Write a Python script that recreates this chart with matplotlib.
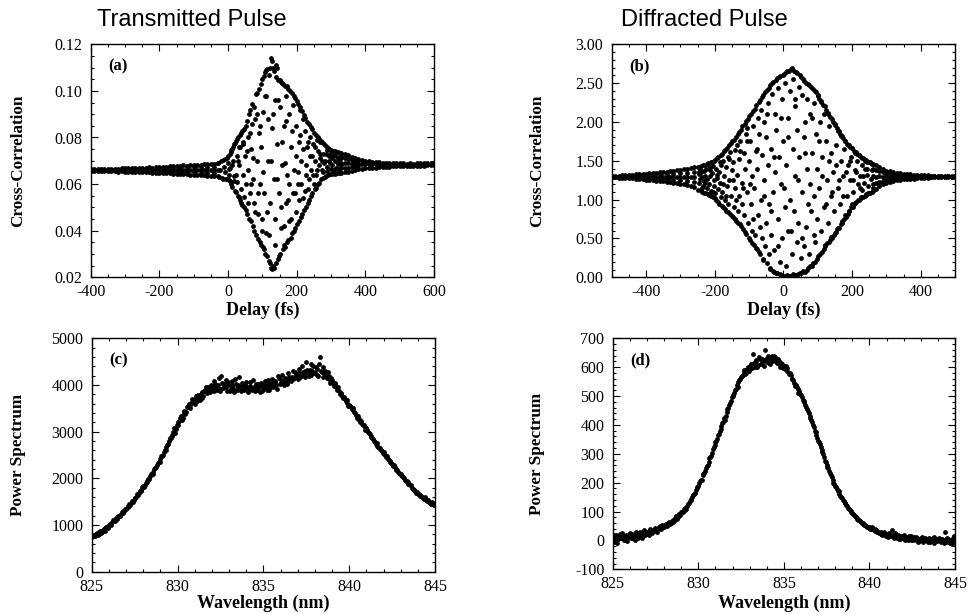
import matplotlib
matplotlib.use("Agg")
import matplotlib.pyplot as plt
from matplotlib.ticker import MultipleLocator, FormatStrFormatter

# ---------------- Panel (a): transmitted pulse cross-correlation ----------------
a_left_delay = [-400, -390, -380, -370, -360, -350, -340, -330, -320, -310,
                -300, -290, -280, -270, -260, -250, -240, -230, -220, -210,
                -200, -190, -180, -170, -160, -150, -140, -130, -120, -110,
                -100, -90, -80, -70, -60, -50, -40, -30]
a_left_hi = [.0663, .0664, .0663, .0664, .0665, .0664, .0665, .0666, .0665, .0667,
             .0667, .0668, .0667, .0669, .0670, .0669, .0671, .0672, .0671, .0673,
             .0674, .0673, .0675, .0676, .0677, .0676, .0678, .0680, .0679, .0681,
             .0682, .0683, .0684, .0685, .0686, .0687, .0688, .0689]
a_left_mid = [.0659, .0660, .0659, .0660, .0660, .0659, .0660, .0660, .0660, .0661,
              .0660, .0661, .0660, .0661, .0661, .0660, .0661, .0661, .0660, .0661,
              .0661, .0660, .0661, .0662, .0661, .0660, .0661, .0662, .0661, .0662,
              .0661, .0662, .0661, .0662, .0660, .0661, .0660, .0662]
a_left_lo = [.0655, .0656, .0655, .0655, .0656, .0655, .0655, .0655, .0654, .0655,
             .0654, .0653, .0653, .0652, .0652, .0651, .0651, .0650, .0649, .0649,
             .0648, .0647, .0647, .0646, .0645, .0645, .0644, .0643, .0642, .0641,
             .0640, .0640, .0638, .0637, .0636, .0635, .0634, .0633]
a_left2_delay = [-180, -160, -140, -120, -100, -80, -60, -40]
a_left2_hi = [.0669, .0670, .0671, .0672, .0672, .0673, .0674, .0675]
a_left2_lo = [.0653, .0652, .0651, .0651, .0650, .0649, .0648, .0647]

a_right_delay = [330, 340, 350, 360, 370, 380, 390, 400, 410, 420,
                 430, 440, 450, 460, 470, 480, 490, 500, 510, 520,
                 530, 540, 550, 560, 570, 580, 590, 600]
a_right_hi = [.0735, .0730, .0725, .0718, .0712, .0706, .0702, .0699, .0697, .0695,
              .0694, .0693, .0692, .0691, .0690, .0690, .0689, .0690, .0689, .0688,
              .0689, .0688, .0689, .0690, .0689, .0690, .0690, .0691]
a_right_mid = [.0690, .0690, .0689, .0688, .0688, .0687, .0687, .0686, .0686, .0685,
               .0685, .0684, .0684, .0684, .0683, .0683, .0683, .0684, .0683, .0682,
               .0683, .0683, .0684, .0684, .0684, .0685, .0685, .0686]
a_right_lo = [.0648, .0651, .0654, .0657, .0660, .0663, .0665, .0667, .0669, .0670,
              .0671, .0672, .0673, .0674, .0675, .0676, .0676, .0677, .0677, .0676,
              .0677, .0678, .0678, .0679, .0679, .0680, .0680, .0680]
a_right2_delay = [330, 340, 350, 360, 370, 380]
a_right2_hi = [.0712, .0710, .0707, .0703, .0700, .0697]
a_right2_lo = [.0668, .0670, .0671, .0673, .0674, .0676]

a_fringe = [
    (-28, .0692), (-25, .0631), (-22, .0660), (-20, .0697), (-18, .0628),
    (-16, .0702), (-14, .0624), (-12, .0672), (-10, .0708), (-8, .0650), (-6, .0622),
    (-4, .0712), (-2, .0620), (0, .0690), (1, .0722), (3, .0640), (4, .0618),
    (5, .0730), (6, .0612), (7, .0668), (8, .0738), (9, .0600), (10, .0745),
    (12, .0752), (13, .0588), (14, .0700), (15, .0760), (16, .0635), (18, .0770), (19, .0572),
    (21, .0778), (22, .0565), (24, .0785), (25, .0610), (26, .0720), (27, .0792), (28, .0550),
    (30, .0800), (31, .0545), (33, .0680), (34, .0810), (35, .0530), (36, .0760), (38, .0820), (39, .0520),
    (41, .0826), (42, .0512), (44, .0640), (45, .0780), (46, .0835), (47, .0500), (49, .0720),
    (51, .0850), (52, .0490), (53, .0600), (55, .0870), (56, .0470), (57, .0800), (59, .0660),
    (61, .0900), (62, .0450), (64, .0560), (65, .0920), (66, .0440), (67, .0750), (69, .0860),
    (71, .0945), (72, .0420), (73, .0620), (75, .0930), (76, .0400), (77, .0520), (79, .0880),
    (81, .0985), (82, .0380), (83, .0700), (85, .0990), (86, .0365), (87, .0470), (89, .0820),
    (91, .1010), (92, .0350), (93, .0600), (95, .1030), (96, .0340), (97, .0760), (99, .0450),
    (100, .1050), (101, .0330), (103, .0910), (104, .1065), (105, .0320), (106, .0560), (108, .1080), (109, .0300),
    (110, .1090), (111, .0390), (112, .0980), (114, .1095), (115, .0290), (116, .0700), (118, .1070), (119, .0270),
    (121, .1100), (122, .0260), (123, .0520), (125, .1140), (126, .0240), (127, .1130), (128, .0840), (129, .0235),
    (130, .1100), (131, .0250), (133, .0620), (134, .1085), (135, .0240), (136, .0960), (138, .0450), (139, .1110),
    (140, .1060), (141, .0260), (143, .0770), (144, .1100), (145, .0280), (147, .1045), (148, .0560), (149, .0290),
    (150, .1045), (151, .0300), (152, .0930), (154, .1040), (155, .0410), (156, .0680), (158, .1035), (159, .0320),
    (161, .1030), (162, .0340), (164, .0850), (165, .1020), (166, .0330), (168, .0520), (169, .0980),
    (171, .1020), (172, .0350), (173, .0640), (175, .1010), (176, .0360), (177, .0900), (179, .0440),
    (181, .1000), (182, .0370), (183, .0760), (185, .0990), (186, .0390), (188, .0560), (189, .0940),
    (191, .0980), (192, .0400), (193, .0660), (195, .0970), (196, .0410), (198, .0850), (199, .0480),
    (201, .0955), (202, .0430), (204, .0600), (205, .0945), (206, .0440), (208, .0780), (209, .0920),
    (211, .0930), (212, .0460), (213, .0700), (215, .0915), (216, .0470), (218, .0540), (219, .0880),
    (221, .0895), (222, .0490), (223, .0830), (225, .0885), (226, .0500), (227, .0640), (229, .0760),
    (231, .0865), (232, .0520), (233, .0580), (235, .0860), (236, .0530), (238, .0720), (239, .0800),
    (241, .0845), (242, .0550), (243, .0660), (245, .0835), (246, .0560), (248, .0770), (249, .0600),
    (251, .0820), (252, .0580), (253, .0700), (255, .0810), (256, .0585), (257, .0640), (259, .0790),
    (261, .0800), (262, .0600), (263, .0740), (264, .0680), (265, .0795), (266, .0605), (268, .0710), (269, .0780),
    (271, .0785), (272, .0620), (273, .0660), (275, .0780), (276, .0625), (277, .0730), (279, .0690),
    (281, .0770), (282, .0632), (283, .0700), (285, .0765), (286, .0636), (287, .0675), (289, .0745),
    (291, .0755), (292, .0638), (293, .0720), (295, .0750), (296, .0642), (297, .0690), (299, .0665),
    (301, .0745), (302, .0644), (303, .0710), (304, .0680), (305, .0742), (306, .0646), (308, .0725), (309, .0660),
    (311, .0740), (312, .0645), (313, .0700), (314, .0670), (315, .0738), (316, .0648), (318, .0715), (319, .0685),
    (321, .0737), (322, .0647), (323, .0705), (324, .0665), (325, .0735), (326, .0650), (328, .0720), (329, .0680),
]
a_fringe_inner = [
    (2, .0665), (11, .0680), (17, .0612), (23, .0640), (29, .0700), (32, .0760),
    (37, .0580), (43, .0770), (48, .0545), (54, .0740), (58, .0520), (63, .0820),
    (68, .0600), (74, .0710), (78, .0480), (84, .0900), (88, .0560), (94, .0850),
    (98, .0400), (102, .0650), (107, .0980), (113, .0480), (117, .0880), (120, .0380),
    (124, .0700), (132, .0900), (137, .0340), (142, .0620), (146, .0960), (153, .0500),
    (157, .0780), (163, .0420), (167, .0690), (170, .0870), (174, .0530), (178, .0600),
    (184, .0450), (187, .0830), (194, .0560), (197, .0720), (203, .0650), (207, .0530),
    (210, .0810), (214, .0600), (217, .0750), (224, .0570), (228, .0680), (234, .0780),
    (237, .0620), (244, .0720), (247, .0640), (254, .0760), (258, .0660), (267, .0730),
    (274, .0700), (278, .0650), (284, .0730), (288, .0655), (294, .0700), (298, .0730),
]

# ---------------- Panel (b): diffracted pulse cross-correlation ----------------
b_left_delay = [-500, -490, -480, -470, -460, -450, -440, -430, -420, -410,
                -400, -390, -380, -370, -360, -350, -340, -330, -320, -310,
                -300, -290, -280, -270, -260]
b_left_hi = [1.305, 1.307, 1.309, 1.311, 1.314, 1.317, 1.320, 1.324, 1.328, 1.331,
             1.335, 1.339, 1.343, 1.347, 1.352, 1.356, 1.360, 1.365, 1.370, 1.376,
             1.382, 1.390, 1.400, 1.412, 1.425]
b_left_mid = [1.296, 1.296, 1.297, 1.296, 1.297, 1.296, 1.297, 1.296, 1.297, 1.296,
              1.296, 1.297, 1.296, 1.297, 1.296, 1.297, 1.296, 1.297, 1.296, 1.297,
              1.296, 1.297, 1.296, 1.297, 1.296]
b_left_lo = [1.287, 1.285, 1.284, 1.282, 1.280, 1.277, 1.274, 1.270, 1.266, 1.262,
             1.257, 1.253, 1.248, 1.244, 1.239, 1.234, 1.229, 1.224, 1.218, 1.212,
             1.205, 1.196, 1.186, 1.173, 1.158]
b_left2_delay = [-420, -400, -380, -360, -340, -320, -300, -280, -260]
b_left2_hi = [1.313, 1.316, 1.321, 1.325, 1.331, 1.334, 1.341, 1.349, 1.362]
b_left2_lo = [1.280, 1.276, 1.273, 1.268, 1.263, 1.257, 1.251, 1.243, 1.231]

b_right_delay = [260, 270, 280, 290, 300, 310, 320, 330, 340, 350,
                 360, 370, 380, 390, 400, 410, 420, 430, 440, 450,
                 460, 470, 480, 490, 500]
b_right_hi = [1.460, 1.440, 1.420, 1.395, 1.375, 1.365, 1.355, 1.348, 1.342, 1.336,
              1.330, 1.326, 1.322, 1.318, 1.315, 1.313, 1.311, 1.310, 1.309, 1.308,
              1.308, 1.307, 1.307, 1.306, 1.306]
b_right_mid = [1.298, 1.297, 1.298, 1.297, 1.298, 1.297, 1.298, 1.297, 1.298, 1.297,
               1.298, 1.297, 1.298, 1.297, 1.298, 1.297, 1.298, 1.297, 1.298, 1.297,
               1.298, 1.297, 1.298, 1.297, 1.298]
b_right_lo = [1.110, 1.140, 1.170, 1.195, 1.215, 1.230, 1.240, 1.250, 1.255, 1.260,
              1.264, 1.268, 1.271, 1.274, 1.277, 1.280, 1.283, 1.286, 1.288, 1.290,
              1.292, 1.293, 1.294, 1.295, 1.295]
b_right2_delay = [260, 270, 280, 290, 300, 310, 320, 330, 340, 350]
b_right2_hi = [1.400, 1.385, 1.370, 1.355, 1.342, 1.335, 1.328, 1.322, 1.318, 1.315]
b_right2_lo = [1.200, 1.215, 1.230, 1.245, 1.255, 1.262, 1.268, 1.272, 1.276, 1.279]

b_fringe = [
    (-250, 1.42), (-249, 1.13), (-247, 1.33), (-246, 1.22), (-244, 1.40), (-243, 1.27), (-241, 1.12), (-240, 1.36),
    (-239, 1.43), (-238, 1.10), (-236, 1.29), (-235, 1.18), (-233, 1.44), (-232, 1.37), (-231, 1.24), (-230, 1.09),
    (-229, 1.45), (-228, 1.31), (-226, 1.08), (-225, 1.40), (-223, 1.15), (-222, 1.46), (-221, 1.26), (-220, 1.07),
    (-219, 1.47), (-218, 1.20), (-216, 1.06), (-215, 1.38), (-213, 1.30), (-212, 1.48), (-211, 1.11), (-210, 1.05),
    (-209, 1.49), (-208, 1.34), (-206, 1.04), (-205, 1.43), (-203, 1.17), (-202, 1.50), (-201, 1.25), (-200, 1.02),
    (-199, 1.51), (-198, 1.08), (-196, 1.40), (-195, 0.99), (-193, 1.28), (-192, 1.54), (-191, 1.14), (-190, 0.97),
    (-189, 1.55), (-188, 1.36), (-186, 0.95), (-185, 1.21), (-183, 1.57), (-182, 1.03), (-181, 1.45), (-180, 0.92),
    (-179, 1.59), (-178, 1.10), (-176, 0.90), (-175, 1.50), (-173, 1.30), (-172, 1.62), (-171, 0.88), (-170, 1.00),
    (-169, 1.64), (-168, 1.42), (-166, 0.86), (-165, 1.18), (-163, 1.67), (-162, 0.84), (-161, 1.55), (-160, 0.95),
    (-159, 1.70), (-158, 1.25), (-156, 0.82), (-155, 1.61), (-153, 1.05), (-152, 1.73), (-151, 0.79), (-150, 1.38),
    (-149, 1.75), (-148, 0.78), (-146, 1.48), (-145, 0.90), (-143, 1.77), (-142, 1.15), (-141, 0.75), (-140, 1.64),
    (-139, 1.80), (-138, 0.72), (-136, 1.32), (-135, 1.70), (-133, 0.85), (-132, 1.84), (-131, 0.70), (-130, 1.52),
    (-129, 1.87), (-128, 1.05), (-126, 0.68), (-125, 1.76), (-123, 1.90), (-122, 0.66), (-121, 1.22), (-120, 0.95),
    (-119, 1.95), (-118, 0.62), (-116, 1.60), (-115, 0.80), (-113, 1.98), (-112, 1.40), (-111, 0.58), (-110, 1.85),
    (-109, 2.01), (-108, 0.56), (-106, 1.10), (-105, 1.92), (-103, 0.70), (-102, 2.04), (-101, 1.50), (-100, 0.50),
    (-99, 2.08), (-98, 0.48), (-96, 1.75), (-95, 0.95), (-93, 2.10), (-92, 0.60), (-91, 1.30), (-90, 0.44),
    (-89, 2.14), (-88, 1.95), (-86, 0.42), (-85, 1.15), (-83, 2.17), (-82, 0.55), (-81, 1.62), (-80, 0.38),
    (-79, 2.22), (-78, 0.36), (-76, 1.40), (-75, 2.05), (-73, 0.80), (-72, 2.26), (-71, 0.33), (-70, 1.85),
    (-69, 2.28), (-68, 0.30), (-66, 1.00), (-65, 2.15), (-63, 0.50), (-62, 2.32), (-61, 1.58), (-60, 0.24),
    (-59, 2.35), (-58, 0.22), (-56, 1.25), (-55, 2.00), (-53, 0.40), (-52, 2.38), (-51, 0.70), (-50, 1.80),
    (-49, 2.41), (-48, 0.18), (-46, 1.45), (-45, 2.25), (-43, 0.30), (-42, 2.44), (-41, 0.95), (-40, 0.12),
    (-39, 2.47), (-38, 0.11), (-36, 1.65), (-35, 0.55), (-33, 2.36), (-32, 2.50), (-31, 1.10), (-30, 0.08),
    (-29, 2.52), (-28, 0.07), (-26, 0.35), (-25, 2.10), (-23, 1.35), (-22, 2.54), (-21, 0.06), (-20, 1.90),
    (-19, 2.56), (-18, 0.05), (-16, 0.75), (-15, 2.44), (-13, 1.55), (-12, 2.58), (-11, 0.04), (-10, 0.20),
    (-9, 2.59), (-8, 0.03), (-6, 1.20), (-5, 2.30), (-3, 0.50), (-2, 2.61), (-1, 0.02), (0, 1.75),
    (1, 2.62), (2, 0.02), (4, 0.90), (5, 2.50), (7, 0.15), (8, 2.64), (9, 1.45), (10, 0.01),
    (11, 2.65), (12, 0.03), (14, 2.05), (15, 0.60), (17, 2.66), (18, 0.02), (19, 1.00), (20, 2.40),
    (21, 2.68), (22, 0.02), (24, 0.30), (25, 2.69), (27, 1.65), (28, 0.04), (29, 2.55), (30, 0.85),
    (31, 2.66), (32, 0.03), (34, 1.30), (35, 2.20), (37, 0.03), (38, 2.64), (39, 0.45), (40, 1.90),
    (41, 2.63), (42, 0.04), (44, 0.70), (45, 2.45), (47, 1.55), (48, 2.60), (49, 0.05), (50, 0.25),
    (51, 2.58), (52, 0.06), (54, 1.10), (55, 2.35), (57, 0.08), (58, 2.55), (59, 1.80), (60, 0.40),
    (61, 2.53), (62, 0.07), (64, 2.00), (65, 0.65), (67, 2.50), (68, 0.10), (69, 1.40), (70, 2.30),
    (71, 2.49), (72, 0.12), (74, 0.30), (75, 2.47), (77, 1.20), (78, 0.14), (79, 2.10), (80, 0.85),
    (81, 2.45), (82, 0.15), (84, 1.60), (85, 2.42), (87, 0.18), (88, 0.55), (89, 2.25), (90, 1.05),
    (91, 2.40), (92, 0.20), (94, 1.85), (95, 2.38), (97, 0.23), (98, 0.75), (99, 1.40), (100, 2.35),
    (101, 2.34), (102, 0.27), (104, 1.15), (105, 2.30), (107, 0.30), (108, 2.00), (109, 0.60), (110, 2.27),
    (111, 2.26), (112, 0.33), (114, 1.55), (115, 2.22), (117, 0.37), (118, 0.90), (119, 2.10), (120, 0.40),
    (121, 2.20), (122, 0.42), (124, 1.75), (125, 2.15), (127, 0.44), (128, 1.25), (129, 2.12), (130, 0.70),
    (131, 2.10), (132, 0.46), (134, 1.95), (135, 0.48), (137, 2.06), (138, 1.05), (139, 0.52), (140, 1.60),
    (141, 2.04), (142, 0.51), (144, 1.35), (145, 2.00), (147, 0.55), (148, 0.85), (149, 1.97), (150, 0.57),
    (151, 1.96), (152, 0.58), (154, 1.70), (155, 0.62), (157, 1.92), (158, 1.15), (159, 0.64), (160, 1.88),
    (161, 1.89), (162, 0.63), (164, 0.95), (165, 1.85), (167, 0.68), (168, 1.50), (169, 1.82), (170, 0.70),
    (171, 1.82), (172, 0.72), (174, 1.30), (175, 1.79), (177, 0.75), (178, 1.65), (179, 0.80), (180, 1.76),
    (181, 1.76), (182, 0.77), (184, 1.05), (185, 1.72), (187, 0.82), (188, 1.45), (189, 1.70), (190, 0.85),
    (191, 1.70), (192, 0.86), (194, 1.25), (195, 1.68), (197, 0.90), (198, 1.55), (199, 0.95), (200, 1.66),
    (201, 1.66), (202, 0.91), (204, 1.10), (205, 1.63), (207, 0.94), (208, 1.38), (209, 1.60), (210, 0.96),
    (211, 1.61), (212, 0.97), (214, 1.50), (215, 1.59), (217, 0.99), (218, 1.20), (219, 1.57), (220, 1.00),
    (221, 1.58), (222, 1.01), (224, 1.30), (225, 1.55), (227, 1.03), (228, 1.45), (229, 1.54), (230, 1.12),
    (231, 1.54), (232, 1.03), (234, 1.22), (235, 1.52), (237, 1.05), (238, 1.40), (239, 1.50), (240, 1.06),
    (241, 1.51), (242, 1.07), (244, 1.32), (245, 1.49), (247, 1.08), (248, 1.18), (249, 1.48), (250, 1.09),
    (251, 1.48), (252, 1.09), (254, 1.27), (255, 1.47), (257, 1.10), (258, 1.38), (259, 1.46), (260, 1.15),
]
b_fringe_inner = [
    (-245, 1.35), (-237, 1.15), (-227, 1.22), (-214, 1.42), (-204, 1.10), (-194, 1.32),
    (-184, 1.48), (-177, 1.20), (-167, 1.05), (-157, 1.52), (-147, 1.25), (-137, 1.00),
    (-127, 1.62), (-117, 1.15), (-107, 1.75), (-97, 1.20), (-87, 0.75), (-77, 1.65),
    (-67, 0.65), (-57, 1.05), (-47, 2.10), (-37, 0.85), (-27, 1.55), (-17, 0.40),
    (-7, 2.05), (3, 1.15), (13, 1.80), (23, 0.60), (33, 2.30), (43, 1.25),
    (53, 0.50), (63, 1.60), (73, 0.95), (83, 2.05), (93, 0.45), (103, 1.75),
    (113, 1.30), (123, 0.95), (133, 1.50), (143, 1.10), (153, 1.45), (163, 1.25),
    (173, 1.05), (183, 1.35), (193, 1.50), (203, 1.25), (213, 1.35), (223, 1.15),
    (233, 1.30), (243, 1.40),
]

# ---------------- Panel (c): transmitted power spectrum ----------------
c_wavelength = [
    825.0, 825.1, 825.2, 825.3, 825.4, 825.5, 825.6, 825.7, 825.8, 825.9,
    826.0, 826.1, 826.2, 826.3, 826.4, 826.5, 826.6, 826.7, 826.8, 826.9,
    827.0, 827.1, 827.2, 827.3, 827.4, 827.5, 827.6, 827.7, 827.8, 827.9,
    828.0, 828.1, 828.2, 828.3, 828.4, 828.5, 828.6, 828.7, 828.8, 828.9,
    829.0, 829.1, 829.2, 829.3, 829.4, 829.5, 829.6, 829.7, 829.8, 829.9,
    830.0, 830.1, 830.2, 830.3, 830.4, 830.5, 830.6, 830.7, 830.8, 830.9,
    831.0, 831.1, 831.2, 831.3, 831.4, 831.5, 831.6, 831.7, 831.8, 831.9,
    832.0, 832.1, 832.2, 832.3, 832.4, 832.5, 832.6, 832.7, 832.8, 832.9,
    833.0, 833.1, 833.2, 833.3, 833.4, 833.5, 833.6, 833.7, 833.8, 833.9,
    834.0, 834.1, 834.2, 834.3, 834.4, 834.5, 834.6, 834.7, 834.8, 834.9,
    835.0, 835.1, 835.2, 835.3, 835.4, 835.5, 835.6, 835.7, 835.8, 835.9,
    836.0, 836.1, 836.2, 836.3, 836.4, 836.5, 836.6, 836.7, 836.8, 836.9,
    837.0, 837.1, 837.2, 837.3, 837.4, 837.5, 837.6, 837.7, 837.8, 837.9,
    838.0, 838.1, 838.2, 838.3, 838.4, 838.5, 838.6, 838.7, 838.8, 838.9,
    839.0, 839.1, 839.2, 839.3, 839.4, 839.5, 839.6, 839.7, 839.8, 839.9,
    840.0, 840.1, 840.2, 840.3, 840.4, 840.5, 840.6, 840.7, 840.8, 840.9,
    841.0, 841.1, 841.2, 841.3, 841.4, 841.5, 841.6, 841.7, 841.8, 841.9,
    842.0, 842.1, 842.2, 842.3, 842.4, 842.5, 842.6, 842.7, 842.8, 842.9,
    843.0, 843.1, 843.2, 843.3, 843.4, 843.5, 843.6, 843.7, 843.8, 843.9,
    844.0, 844.1, 844.2, 844.3, 844.4, 844.5, 844.6, 844.7, 844.8, 844.9,
    845.0]
c_power = [
    740, 790, 770, 820, 800, 870, 850, 910, 930, 960,
    1000, 1010, 1070, 1080, 1160, 1150, 1200, 1230, 1290, 1300,
    1350, 1400, 1410, 1480, 1500, 1580, 1600, 1650, 1720, 1760,
    1830, 1850, 1930, 1990, 2040, 2100, 2140, 2230, 2280, 2350,
    2420, 2480, 2560, 2600, 2720, 2800, 2870, 2920, 3080, 3050,
    3200, 3230, 3330, 3300, 3450, 3430, 3560, 3500, 3620, 3680,
    3600, 3720, 3780, 3680, 3850, 3760, 3900, 3820, 3960, 3850,
    3980, 3870, 4020, 3900, 4150, 3880, 4050, 3960, 4100, 3870,
    4000, 3920, 4080, 3850, 4020, 3950, 4180, 3880, 3990, 3920,
    4060, 3860, 3980, 3920, 4100, 3880, 3960, 4020, 3840, 3990,
    3920, 4080, 3900, 4030, 3950, 4120, 3980, 4060, 3920, 4150,
    4040, 4220, 3990, 4100, 4050, 4180, 4080, 4300, 4150, 4220,
    4130, 4350, 4200, 4280, 4180, 4500, 4250, 4330, 4210, 4400,
    4250, 4350, 4200, 4600, 4280, 4180, 4300, 4150, 4200, 4050,
    4100, 3980, 4020, 3900, 3870, 3830, 3760, 3740, 3650, 3620,
    3580, 3520, 3500, 3420, 3360, 3330, 3250, 3220, 3150, 3100,
    3070, 3000, 2960, 2880, 2840, 2780, 2750, 2680, 2650, 2580,
    2560, 2490, 2470, 2390, 2360, 2310, 2280, 2200, 2180, 2120,
    2100, 2040, 2010, 1940, 1920, 1870, 1850, 1780, 1750, 1690,
    1670, 1640, 1630, 1580, 1590, 1550, 1530, 1480, 1500, 1440,
    1450]
c_wavelength2 = [
    825.05, 825.15, 825.25, 825.35, 825.45, 825.55, 825.65, 825.75, 825.85, 825.95,
    826.05, 826.15, 826.25, 826.35, 826.45, 826.55, 826.65, 826.75, 826.85, 826.95,
    827.05, 827.15, 827.25, 827.35, 827.45, 827.55, 827.65, 827.75, 827.85, 827.95,
    828.05, 828.15, 828.25, 828.35, 828.45, 828.55, 828.65, 828.75, 828.85, 828.95,
    829.05, 829.15, 829.25, 829.35, 829.45, 829.55, 829.65, 829.75, 829.85, 829.95,
    830.05, 830.15, 830.25, 830.35, 830.45, 830.55, 830.65, 830.75, 830.85, 830.95,
    831.05, 831.15, 831.25, 831.35, 831.45, 831.55, 831.65, 831.75, 831.85, 831.95,
    832.05, 832.15, 832.25, 832.35, 832.45, 832.55, 832.65, 832.75, 832.85, 832.95,
    833.05, 833.15, 833.25, 833.35, 833.45, 833.55, 833.65, 833.75, 833.85, 833.95,
    834.05, 834.15, 834.25, 834.35, 834.45, 834.55, 834.65, 834.75, 834.85, 834.95,
    835.05, 835.15, 835.25, 835.35, 835.45, 835.55, 835.65, 835.75, 835.85, 835.95,
    836.05, 836.15, 836.25, 836.35, 836.45, 836.55, 836.65, 836.75, 836.85, 836.95,
    837.05, 837.15, 837.25, 837.35, 837.45, 837.55, 837.65, 837.75, 837.85, 837.95,
    838.05, 838.15, 838.25, 838.35, 838.45, 838.55, 838.65, 838.75, 838.85, 838.95,
    839.05, 839.15, 839.25, 839.35, 839.45, 839.55, 839.65, 839.75, 839.85, 839.95,
    840.05, 840.15, 840.25, 840.35, 840.45, 840.55, 840.65, 840.75, 840.85, 840.95,
    841.05, 841.15, 841.25, 841.35, 841.45, 841.55, 841.65, 841.75, 841.85, 841.95,
    842.05, 842.15, 842.25, 842.35, 842.45, 842.55, 842.65, 842.75, 842.85, 842.95,
    843.05, 843.15, 843.25, 843.35, 843.45, 843.55, 843.65, 843.75, 843.85, 843.95,
    844.05, 844.15, 844.25, 844.35, 844.45, 844.55, 844.65, 844.75, 844.85, 844.95]
c_power2 = [
    780, 760, 810, 780, 850, 830, 900, 880, 960, 940,
    1030, 1020, 1100, 1090, 1130, 1200, 1190, 1280, 1260, 1350,
    1370, 1440, 1430, 1520, 1530, 1570, 1660, 1680, 1730, 1820,
    1810, 1900, 1950, 1980, 2090, 2100, 2200, 2240, 2330, 2360,
    2470, 2500, 2600, 2680, 2740, 2860, 2900, 3000, 2980, 3150,
    3150, 3300, 3260, 3400, 3380, 3520, 3600, 3580, 3700, 3640,
    3760, 3650, 3720, 3800, 3720, 3880, 3960, 3880, 3920, 4000,
    3920, 4080, 3960, 4000, 3920, 4200, 3930, 4020, 3960, 4060,
    3880, 4000, 3940, 4120, 3900, 4000, 3960, 4040, 3900, 4000,
    3960, 3920, 4060, 3890, 3960, 4020, 3900, 3950, 4050, 3880,
    4000, 3960, 4100, 3900, 4040, 3960, 4080, 3990, 4200, 4020,
    4100, 4060, 4150, 4020, 4250, 4100, 4180, 4120, 4280, 4180,
    4250, 4180, 4400, 4220, 4300, 4320, 4200, 4450, 4300, 4250,
    4380, 4220, 4450, 4300, 4380, 4250, 4200, 4280, 4120, 4150,
    4050, 4050, 3950, 3960, 3800, 3800, 3720, 3700, 3680, 3560,
    3560, 3480, 3460, 3400, 3300, 3280, 3200, 3160, 3140, 3040,
    3030, 2980, 2900, 2860, 2800, 2740, 2700, 2660, 2600, 2540,
    2520, 2460, 2420, 2380, 2320, 2270, 2240, 2180, 2140, 2090,
    2060, 2030, 1970, 1950, 1880, 1860, 1800, 1760, 1720, 1700,
    1660, 1620, 1600, 1560, 1540, 1510, 1490, 1450, 1460, 1420]

# ---------------- Panel (d): diffracted power spectrum ----------------
d_wavelength = list(c_wavelength)
d_power = [
    10, -5, 18, 5, 22, 8, 15, 0, 20, 12,
    25, 8, 18, 3, 22, 14, 28, 10, 35, 18,
    28, 20, 38, 25, 32, 40, 30, 45, 38, 55,
    48, 58, 52, 65, 60, 72, 68, 85, 80, 92,
    98, 100, 112, 108, 125, 135, 140, 158, 165, 180,
    190, 205, 210, 230, 240, 258, 270, 290, 302, 325,
    340, 352, 370, 385, 405, 425, 432, 455, 470, 482,
    500, 512, 525, 530, 555, 565, 572, 590, 580, 600,
    598, 612, 645, 600, 625, 608, 630, 615, 622, 660,
    618, 632, 610, 640, 625, 635, 615, 620, 600, 612,
    605, 590, 598, 575, 572, 560, 545, 540, 525, 518,
    505, 488, 478, 462, 448, 430, 418, 400, 380, 365,
    345, 335, 312, 298, 275, 262, 250, 232, 220, 200,
    190, 178, 170, 155, 148, 135, 128, 118, 108, 102,
    95, 88, 82, 75, 72, 65, 58, 55, 50, 45,
    48, 40, 38, 32, 35, 28, 30, 22, 25, 18,
    22, 12, 20, 35, 15, 25, 8, 14, 5, 12,
    18, 3, 10, 15, 0, 8, 12, 2, 10, -2,
    8, 12, 0, 5, -5, 10, 2, 8, -8, 5,
    0, 6, -6, 3, 30, -4, 5, -10, 2, 8,
    -2]
d_wavelength2 = list(c_wavelength2)
d_power2 = [
    20, 5, -8, 15, 10, 25, 2, 12, -3, 18,
    10, 22, 12, 28, 8, 20, 15, 25, 20, 30,
    22, 32, 28, 35, 42, 35, 38, 50, 45, 48,
    55, 50, 60, 58, 68, 65, 78, 75, 90, 88,
    100, 110, 105, 120, 128, 145, 150, 160, 175, 185,
    200, 210, 225, 232, 252, 262, 285, 292, 315, 330,
    345, 365, 378, 395, 410, 418, 445, 460, 475, 495,
    505, 520, 540, 548, 560, 570, 585, 575, 595, 588,
    605, 598, 615, 622, 600, 635, 610, 628, 605, 630,
    640, 615, 628, 620, 640, 622, 630, 608, 615, 598,
    600, 605, 585, 580, 560, 555, 535, 530, 512, 508,
    495, 482, 470, 455, 440, 425, 410, 392, 375, 355,
    340, 322, 305, 290, 270, 255, 240, 228, 210, 195,
    185, 172, 160, 152, 140, 130, 122, 112, 105, 98,
    92, 85, 78, 72, 68, 62, 60, 52, 48, 42,
    40, 45, 35, 38, 30, 25, 28, 20, 28, 15,
    18, 25, 14, 18, 8, 15, 20, 6, 14, 10,
    5, 12, 2, 8, 14, 0, 5, 12, -4, 6,
    2, -5, 10, 0, 6, -6, 4, 12, 0, -3,
    8, -2, 5, -8, 4, 10, -6, 2, -12, 15]

# ---------------- Styling ----------------
SERIF = ["Liberation Serif", "DejaVu Serif"]
SANS = ["Liberation Sans", "DejaVu Sans"]
plt.rcParams["font.family"] = SERIF

W, H = 969, 614
fig = plt.figure(figsize=(W / 100, H / 100), dpi=100)


def make_axes(l, r, t, b):
    return fig.add_axes([l / W, 1 - b / H, (r - l) / W, (b - t) / H])


axa = make_axes(90.7, 434.0, 44.3, 277.3)
axb = make_axes(611.7, 955.0, 44.3, 277.3)
axc = make_axes(91.7, 435.0, 338.3, 571.7)
axd = make_axes(612.7, 955.0, 338.3, 569.3)

MS = 12
kw = dict(s=MS, c="black", linewidths=0, marker="o", zorder=3)


def scat(ax, xs, ys):
    ax.scatter(xs, ys, **kw)


# panel a
scat(axa, a_left_delay, a_left_hi)
scat(axa, a_left_delay, a_left_mid)
scat(axa, a_left_delay, a_left_lo)
scat(axa, a_left2_delay, a_left2_hi)
scat(axa, a_left2_delay, a_left2_lo)
scat(axa, a_right_delay, a_right_hi)
scat(axa, a_right_delay, a_right_mid)
scat(axa, a_right_delay, a_right_lo)
scat(axa, a_right2_delay, a_right2_hi)
scat(axa, a_right2_delay, a_right2_lo)
scat(axa, [p[0] for p in a_fringe], [p[1] for p in a_fringe])
scat(axa, [p[0] for p in a_fringe_inner], [p[1] for p in a_fringe_inner])

# panel b
scat(axb, b_left_delay, b_left_hi)
scat(axb, b_left_delay, b_left_mid)
scat(axb, b_left_delay, b_left_lo)
scat(axb, b_left2_delay, b_left2_hi)
scat(axb, b_left2_delay, b_left2_lo)
scat(axb, b_right_delay, b_right_hi)
scat(axb, b_right_delay, b_right_mid)
scat(axb, b_right_delay, b_right_lo)
scat(axb, b_right2_delay, b_right2_hi)
scat(axb, b_right2_delay, b_right2_lo)
scat(axb, [p[0] for p in b_fringe], [p[1] for p in b_fringe])
scat(axb, [p[0] for p in b_fringe_inner], [p[1] for p in b_fringe_inner])

# panel c, d
scat(axc, c_wavelength, c_power)
scat(axc, c_wavelength2, c_power2)
scat(axd, d_wavelength, d_power)
scat(axd, d_wavelength2, d_power2)

TICK_FS = 11.5
LABEL_FS = 12.3


def style(ax, xlim, ylim, xmaj, xmin, ymaj, ymin, yfmt, xlabel, ylabel,
          xlab_y, ylab_x, tag):
    ax.set_xlim(*xlim)
    ax.set_ylim(*ylim)
    ax.xaxis.set_major_locator(MultipleLocator(xmaj))
    ax.xaxis.set_minor_locator(MultipleLocator(xmin))
    ax.yaxis.set_major_locator(MultipleLocator(ymaj))
    ax.yaxis.set_minor_locator(MultipleLocator(ymin))
    ax.yaxis.set_major_formatter(FormatStrFormatter(yfmt))
    ax.xaxis.set_major_formatter(FormatStrFormatter("%d"))
    ax.tick_params(which="both", direction="in", top=True, right=True,
                   labelsize=TICK_FS, width=0.8, colors="black")
    ax.tick_params(which="major", length=5)
    ax.tick_params(which="minor", length=2.5)
    ax.tick_params(axis="x", which="major", pad=5)
    ax.tick_params(axis="y", which="major", pad=6)
    for sp in ax.spines.values():
        sp.set_linewidth(1.0)
        sp.set_color("black")
    ax.set_xlabel(xlabel, fontsize=13, fontweight="bold")
    ax.set_ylabel(ylabel, fontsize=LABEL_FS, fontweight="bold")
    ax.xaxis.set_label_coords(0.5, xlab_y)
    ax.xaxis.label.set_va("center")
    ax.yaxis.set_label_coords(ylab_x, 0.5)
    ax.yaxis.label.set_va("center")
    ax.text(0.05, 0.905, tag, transform=ax.transAxes, fontsize=12,
            fontweight="bold", ha="left", va="center")


style(axa, (-400, 600), (0.02, 0.12), 200, 50, 0.02, 0.005, "%.2f",
      "Delay (fs)", "Cross-Correlation", -0.14, -0.212, "(a)")
style(axb, (-500, 500), (0.0, 3.0), 200, 50, 0.5, 0.1, "%.2f",
      "Delay (fs)", "Cross-Correlation", -0.14, -0.218, "(b)")
style(axc, (825, 845), (0, 5000), 5, 1, 1000, 200, "%d",
      "Wavelength (nm)", "Power Spectrum", -0.134, -0.215, "(c)")
style(axd, (825, 845), (-100, 700), 5, 1, 100, 20, "%d",
      "Wavelength (nm)", "Power Spectrum", -0.146, -0.221, "(d)")

fig.text(192 / W, 1 - 20 / H, "Transmitted Pulse", fontsize=17,
         family=SANS, ha="center", va="center")
fig.text(704 / W, 1 - 20 / H, "Diffracted Pulse", fontsize=17,
         family=SANS, ha="center", va="center")

fig.savefig("out.png", dpi=100)
